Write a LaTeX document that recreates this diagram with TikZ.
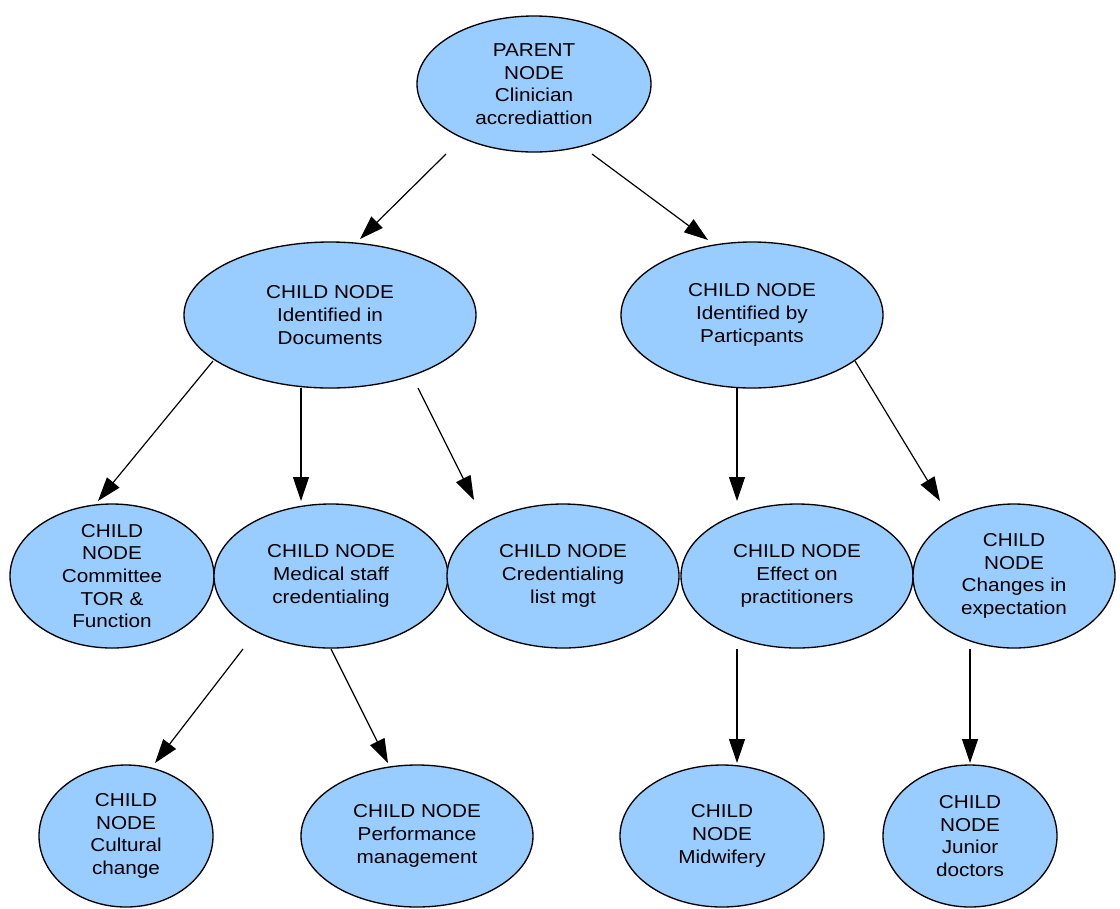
\documentclass[tikz,border=0pt]{standalone}
\usepackage{fontspec}
\setmainfont{Liberation Sans}[FakeStretch=1.11]
\usetikzlibrary{shapes.geometric,arrows.meta}
\definecolor{nodeblue}{HTML}{99CCFF}
\begin{document}
\begin{tikzpicture}[x=0.75pt,y=-0.75pt,
  bubble/.style={ellipse,draw=black,line width=1pt,fill=nodeblue,
    inner sep=-30pt,align=center,
    font=\fontsize{14pt}{17pt}\selectfont},
  link/.style={draw=black,line width=0.9pt,
    -{Triangle[length=18pt,width=12pt]}},
  size/.style 2 args={minimum width=#1*1.5pt,minimum height=#2*1.5pt}]
\useasboundingbox (0,0) rectangle (1120,908);

% tree nodes
\node[bubble,size={117}{68}] (parent) at (534,84) {PARENT\\NODE\\Clinician\\accrediattion};
\node[bubble,size={146}{73}] (docs) at (330,315) {CHILD NODE\\Identified in\\Documents};
\node[bubble,size={131}{73}] (parts) at (752,315) {CHILD NODE\\Identified by\\Particpants};
\node[bubble,size={102}{72}] (tor) at (112,576) {CHILD\\NODE\\Committee\\TOR \&\\Function};
\node[bubble,size={117}{72}] (med) at (331,576) {CHILD NODE\\Medical staff\\credentialing};
\node[bubble,size={116}{72}] (list) at (563,576) {CHILD NODE\\Credentialing\\list mgt};
\node[bubble,size={116}{72}] (eff) at (797,576) {CHILD NODE\\Effect on\\practitioners};
\node[bubble,size={101}{72}] (chg) at (1014,576) {CHILD\\NODE\\Changes in\\expectation};
\node[bubble,size={87}{71}] (cult) at (126,836) {CHILD\\NODE\\Cultural\\change};
\node[bubble,size={116}{71}] (perf) at (417,836) {CHILD NODE\\Performance\\management};
\node[bubble,size={102}{71}] (mid) at (722,836) {CHILD\\NODE\\Midwifery};
\node[bubble,size={87}{71}] (jun) at (970,836) {CHILD\\NODE\\Junior\\doctors};

% connector end points, set a little off the ellipses
\coordinate (parent-docs-a) at (446,154);  \coordinate (parent-docs-b) at (360,239);
\coordinate (parent-parts-a) at (592,154); \coordinate (parent-parts-b) at (708,240);
\coordinate (docs-tor-a) at (213,361);     \coordinate (docs-tor-b) at (98,501);
\coordinate (docs-med-a) at (301,388);     \coordinate (docs-med-b) at (301,501);
\coordinate (docs-list-a) at (418,388);    \coordinate (docs-list-b) at (474,500);
\coordinate (parts-eff-a) at (737,388);    \coordinate (parts-eff-b) at (737,501);
\coordinate (parts-chg-a) at (855,361);    \coordinate (parts-chg-b) at (940,501);
\coordinate (med-cult-a) at (243,649);     \coordinate (med-cult-b) at (155,763);
\coordinate (med-perf-a) at (331,649);     \coordinate (med-perf-b) at (388,763);
\coordinate (eff-mid-a) at (737,649);      \coordinate (eff-mid-b) at (737,763);
\coordinate (chg-jun-a) at (970,649);      \coordinate (chg-jun-b) at (970,763);

% connectors
\foreach \e in {parent-docs,parent-parts,docs-tor,docs-med,docs-list,
                parts-eff,parts-chg,med-cult,med-perf,eff-mid,chg-jun}
  \draw[link] (\e-a) -- (\e-b);
\end{tikzpicture}
\end{document}
